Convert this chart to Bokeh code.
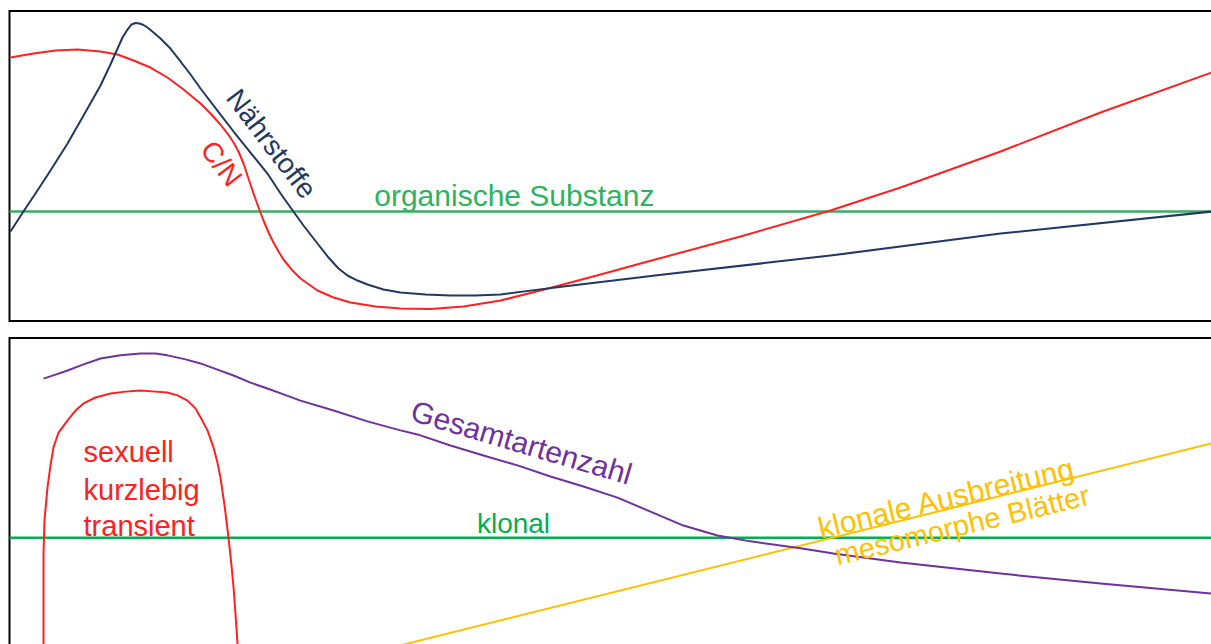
from bokeh.plotting import figure
from bokeh.layouts import column
from bokeh.models import Range1d
from bokeh.core.properties import value
from bokeh.embed import file_html
from bokeh.resources import INLINE

# ---------------- data (gradient position 0..100, relative level 0..100) -------------
# upper panel
naehr_x = [0.08, 1.16, 2.16, 3.41, 4.83, 6.16, 7.57, 8.4, 8.99, 9.4, 9.82, 10.15, 10.48,
           10.82, 11.15, 11.48, 11.98, 12.56, 13.39, 13.98, 15.06, 15.89, 17.3, 18.64,
           20.05, 21.46, 22.55, 23.38, 24.46, 25.62, 26.54, 27.37, 28.12, 28.95, 29.78,
           31.11, 32.53, 34.61, 36.69, 38.77, 40.85, 43.34, 46.09, 54.41, 68.3, 82.45, 100.0]
naehr_y = [28.87, 35.32, 41.13, 48.55, 57.26, 66.29, 75.97, 82.74, 87.9, 91.45, 94.03,
           95.65, 96.13, 95.97, 95.48, 94.68, 93.06, 91.13, 87.9, 85.0, 79.52, 75.0, 67.9,
           61.13, 54.35, 47.58, 41.13, 36.61, 30.81, 25.0, 20.48, 16.94, 14.68, 13.06,
           11.77, 10.16, 9.19, 8.55, 8.2, 8.2, 8.55, 9.8, 11.1, 15.0, 21.1, 28.2, 35.3]

cn_x = [0.08, 2.0, 3.83, 5.66, 7.57, 8.99, 10.32, 11.73, 13.14, 14.48, 15.89, 16.72, 17.55,
        18.14, 18.64, 19.05, 19.47, 19.88, 20.3, 20.72, 21.13, 21.55, 21.96, 22.38, 22.8,
        23.54, 24.21, 25.04, 25.62, 26.96, 28.37, 30.45, 32.53, 35.02, 37.77, 40.85, 44.18,
        49.17, 52.5, 60.82, 68.3, 74.13, 82.45, 90.77, 100.0]
cn_y = [85.0, 86.29, 87.26, 87.58, 86.94, 85.97, 84.03, 81.77, 78.55, 74.68, 70.16, 66.94,
        63.39, 60.48, 57.58, 54.68, 50.81, 45.97, 41.13, 36.61, 32.42, 28.55, 25.32, 22.42,
        19.84, 16.29, 13.71, 11.45, 9.84, 7.58, 5.97, 4.68, 4.03, 3.87, 4.68, 6.61, 9.84,
        15.0, 18.55, 27.26, 35.65, 43.06, 54.68, 67.26, 80.16]

org_x = [0.0, 100.0]
org_y = [35.3, 35.3]

# lower panel
ges_x = [2.83, 3.83, 4.83, 6.16, 7.57, 9.23, 10.9, 12.15, 13.14, 14.64, 15.89, 17.3, 18.64,
         20.05, 21.46, 22.8, 24.21, 26.96, 29.78, 32.53, 33.94, 36.69, 39.43, 42.26, 45.01,
         47.75, 50.58, 53.33, 56.07, 58.9, 61.65, 65.81, 68.55, 74.13, 82.45, 90.77, 100.0]
ges_y = [86.9, 88.2, 89.5, 91.5, 93.4, 94.4, 95.0, 95.0, 94.4, 93.1, 91.8, 89.8, 87.9,
         85.6, 83.7, 81.8, 79.8, 76.6, 73.1, 70.2, 68.9, 65.3, 62.1, 58.9, 55.3,
         52.1, 48.5, 44.0, 39.5, 36.3, 34.4, 32.2, 30.5, 27.6, 24.0, 20.8, 17.6]

sex_x = [2.83, 2.83, 2.83, 2.83, 2.91, 3.16, 3.41, 3.66, 4.08, 4.83, 5.49, 6.16, 7.15, 8.4,
         9.65, 10.9, 12.15, 13.14, 13.98, 14.81, 15.47, 15.89, 16.47, 16.97, 17.3, 17.55,
         17.89, 18.22, 18.47, 18.64, 18.81, 18.97, 19.05]
sex_y = [-4.7, 8.9, 21.8, 30.5, 41.1, 51.8, 58.9, 64.7, 69.5, 73.4, 76.6, 78.9, 80.8, 82.1,
         82.7, 83.1, 82.7, 82.4, 81.5, 79.8, 77.3, 74.4, 70.2, 64.7, 59.8, 55.0,
         46.0, 35.6, 26.6, 19.5, 10.5, 1.5, -4.7]

klon_x = [0.0, 100.0]
klon_y = [35.6, 35.6]

ausb_x = [28.0, 100.0]
ausb_y = [-3.5, 66.0]

# labels
top_lbl_text = ["Nährstoffe", "C/N"]
top_lbl_x = [21.8, 17.64]
top_lbl_y = [57.2, 50.8]
top_lbl_color = ["#1f3864", "#ff2020"]

sex_lbl_text = ["sexuell", "kurzlebig", "transient"]
sex_lbl_x = [6.16, 6.16, 6.16]
sex_lbl_y = [63.1, 51.1, 39.5]

ausb_lbl_text = ["klonale  Ausbreitung", "mesomorphe  Blätter"]
ausb_lbl_x = [67.3, 68.7]
ausb_lbl_y = [38.5, 29.8]
ausb_lbl_size = ["30px", "29px"]

NAVY = "#1f3864"
RED = "#ff2020"
GREEN_TOP = "#3cab68"
GREEN_BOT = "#00b050"
PURPLE = "#7030a0"
YELLOW = "#ffc000"
FONT = value("Liberation Sans")

X_RANGE = (-0.749, 100.0)


def make_fig(h, y0, y1):
    p = figure(width=1211, height=h, x_range=Range1d(*X_RANGE), y_range=Range1d(y0, y1),
               output_backend="svg", toolbar_location=None, min_border=0,
               x_axis_location=None, y_axis_location=None,
               outline_line_color=None, background_fill_color="white",
               border_fill_color="white")
    p.grid.visible = False
    return p


# ---------------- upper panel ----------------
p1 = make_fig(329, -2.74, 103.39)
p1.line([150, 0, 0, 150], [100, 100, 0, 0], line_color="black", line_width=2,
        line_join="miter")
p1.line(org_x, org_y, line_color=GREEN_TOP, line_width=2.5)
p1.line(cn_x, cn_y, line_color=RED, line_width=2, line_join="round")
p1.line(naehr_x, naehr_y, line_color=NAVY, line_width=2, line_join="round")
p1.text(x=[42.0], y=[40.5], text=["organische Substanz"], text_font=FONT,
        text_font_size="30px", text_color="#2db35d", text_align="center",
        text_baseline="alphabetic")
p1.text(x=top_lbl_x, y=top_lbl_y, text=top_lbl_text, angle=-0.92, text_font=FONT,
        text_font_size="28px", text_color=top_lbl_color, text_align="center",
        text_baseline="middle")

# ---------------- lower panel ----------------
p2 = make_fig(315, 1.13, 102.74)
p2.line([150, 0, 0], [100, 100, -10], line_color="black", line_width=2,
        line_join="miter")
p2.line(klon_x, klon_y, line_color=GREEN_BOT, line_width=2.5)
p2.line(ausb_x, ausb_y, line_color=YELLOW, line_width=2)
p2.line(ges_x, ges_y, line_color=PURPLE, line_width=2, line_join="round")
p2.line(sex_x, sex_y, line_color=RED, line_width=2, line_join="round")
p2.text(x=sex_lbl_x, y=sex_lbl_y, text=sex_lbl_text, text_font=FONT,
        text_font_size="29px", text_color=RED, text_align="left",
        text_baseline="alphabetic")
p2.text(x=[41.93], y=[40.2], text=["klonal"], text_font=FONT, text_font_size="28px",
        text_color=GREEN_BOT, text_align="center", text_baseline="alphabetic")
p2.text(x=[42.6], y=[66.3], text=["Gesamtartenzahl"], angle=-0.288, text_font=FONT,
        text_font_size="30px", text_color=PURPLE, text_align="center",
        text_baseline="middle")
p2.text(x=ausb_lbl_x, y=ausb_lbl_y, text=ausb_lbl_text, angle=0.236, text_font=FONT,
        text_font_size=ausb_lbl_size, text_color=YELLOW, text_align="left",
        text_baseline="alphabetic")

layout = column(p1, p2, spacing=0)
open("out.html", "w").write(file_html(layout, INLINE))
